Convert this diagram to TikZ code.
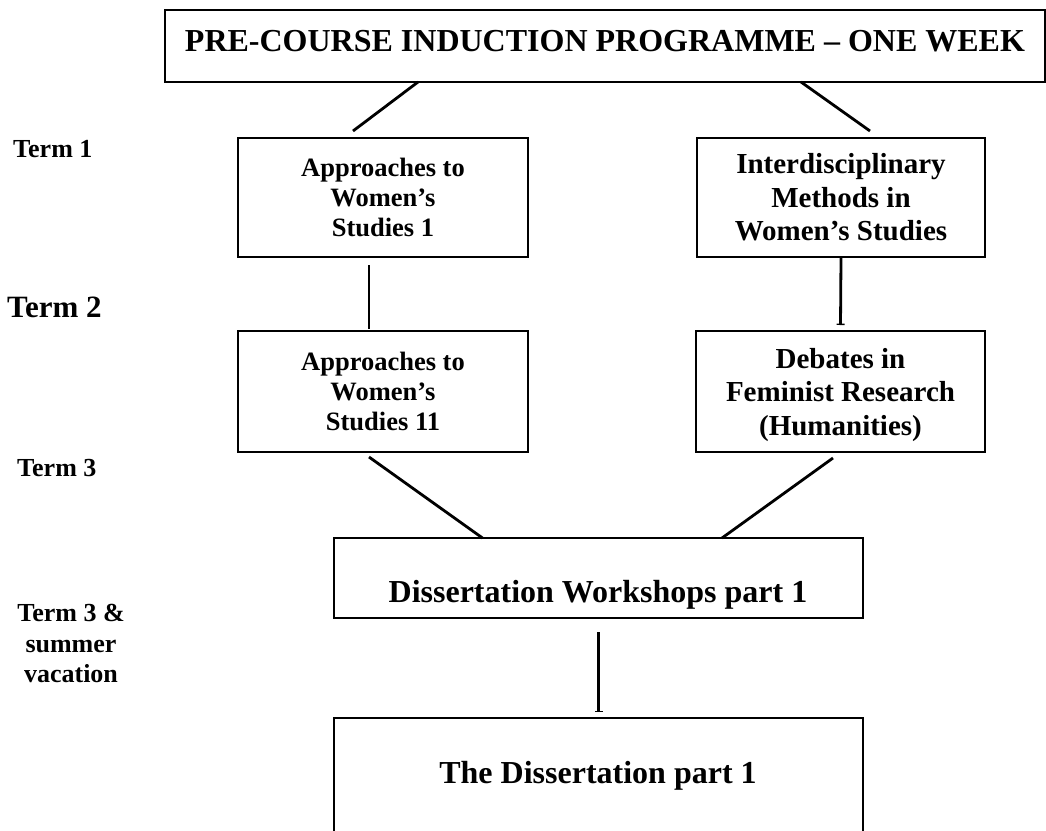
\documentclass[tikz,border=0pt]{standalone}
\usepackage{fontspec}
\setmainfont{Liberation Serif}
\usetikzlibrary{arrows.meta}

\begin{document}
\begin{tikzpicture}[x=1pt,y=-1pt,
  box/.style={draw,line width=1.6pt,inner sep=0pt,outer sep=0pt,align=center},
  link/.style={line width=2.8pt},
  foot/.style={-{Bar[width=8pt,line width=1.4pt]}},
  big/.style={font=\fontsize{32}{37}\selectfont\bfseries,inner sep=0pt},
  small/.style={font=\fontsize{26.5}{30}\selectfont\bfseries},
  mid/.style={font=\fontsize{29}{33.5}\selectfont\bfseries},
  term/.style={font=\fontsize{26}{30.5}\selectfont\bfseries,inner sep=0pt,align=center}]
  \useasboundingbox (0,0) rectangle (1046,830);
  \clip (0,0) rectangle (1046,830);
  % boxes
  \draw(605,46) node[box,minimum width=880pt,minimum height=72pt] (pre) {};
  \node[big,anchor=base] (pretext) at (605,51) {PRE-COURSE INDUCTION PROGRAMME – ONE WEEK};
  \draw(383,197.5) node[box,small,minimum width=290pt,minimum height=119pt] (aws1) {Approaches to\\Women’s\\Studies 1};
  \draw(841,197.5) node[box,mid,minimum width=288pt,minimum height=119pt] (imw) {Interdisciplinary\\Methods in\\Women’s Studies};
  \draw(383,391.5) node[box,small,minimum width=290pt,minimum height=121pt] (aws2) {Approaches to\\Women’s\\Studies 11};
  \draw(840.5,391.5) node[box,mid,text depth=0pt,minimum width=289pt,minimum height=121pt] (dfr) {Debates in\\Feminist Research\\(Humanities)};
  \draw(598.5,578) node[box,minimum width=529pt,minimum height=80pt] (dw) {};
  \node[big,anchor=base] (dwtext) at (598,602) {Dissertation Workshops part 1};
  \draw(598.5,788) node[box,minimum width=529pt,minimum height=140pt] (diss) {};
  \node[big,anchor=base] (disstext) at (598,783) {The Dissertation part 1};
  % terms
  \node[term,anchor=base west] (t1) at (13,157) {Term 1};
  \node[term,font=\fontsize{31}{35}\selectfont\bfseries,anchor=base west] (t2) at (7,317) {Term 2};
  \node[term,anchor=base west] (t3) at (17,476) {Term 3};
  \node[term,anchor=north] (t4) at (71,604) {Term 3 \&\\summer\\vacation};
  % links
  \draw[link] ([xshift=-187pt]pre.south) -- ([xshift=-30pt,yshift=7pt]aws1.north);
  \draw[link] ([xshift=196pt]pre.south) -- ([xshift=29pt,yshift=7pt]imw.north);
  \draw[link] ([xshift=-14pt,yshift=-8pt]aws1.south) -- ([xshift=-14pt,yshift=2pt]aws2.north);
  \draw[link,foot] ([yshift=-1pt]imw.south) -- ([yshift=6pt]dfr.north);
  \draw[link] ([xshift=-14pt,yshift=-5pt]aws2.south) -- ([xshift=-116pt]dw.north);
  \draw[link] ([xshift=-7.5pt,yshift=-6pt]dfr.south) -- ([xshift=123.5pt]dw.north);
  \draw[link,foot] ([yshift=-14pt]dw.south) -- ([yshift=6pt]diss.north);
\end{tikzpicture}
\end{document}
